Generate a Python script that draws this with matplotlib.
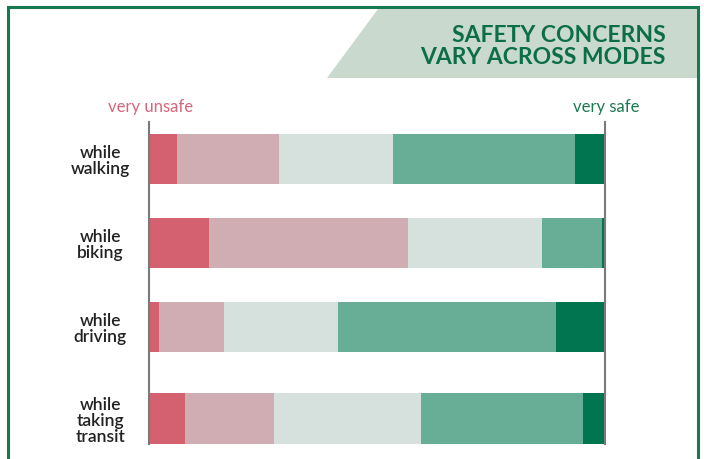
import matplotlib.pyplot as plt
from matplotlib.patches import Polygon, Rectangle
import numpy as np

# --- data (share of respondents, %) ---
modes = ['while\nwalking', 'while\nbiking', 'while\ndriving', 'while\ntaking\ntransit']
very_unsafe = [6.1, 13.1, 2.2, 7.9]
unsafe = [22.4, 43.7, 14.2, 19.6]
neutral = [25.0, 29.4, 25.0, 32.2]
safe = [39.9, 13.1, 47.9, 35.5]
very_safe = [6.6, 0.7, 10.7, 4.8]

colors = ['#d4616f', '#d0adb2', '#d6e0dc', '#68ad96', '#00754f']
green = '#0b6e47'

W, H = 704, 460
fig = plt.figure(figsize=(W / 100, H / 100), dpi=100)
fig.patch.set_facecolor('white')


def fx(x):
    return x / W


def fy(y):
    return 1 - y / H


# --- frame and title banner ---
fig.add_artist(Rectangle((fx(8), fy(470)), fx(690), 462 / H, transform=fig.transFigure,
                         fill=False, edgecolor='#157a50', linewidth=2.2, zorder=0))
banner = Polygon([(fx(378), fy(10)), (fx(697), fy(10)), (fx(697), fy(79)), (fx(327), fy(79))],
                 closed=True, transform=fig.transFigure, facecolor='#c9d9cd', edgecolor='none', zorder=1)
fig.add_artist(banner)
fig.text(fx(666), fy(35), 'SAFETY CONCERNS', ha='right', va='center', fontsize=16.5,
         fontweight='bold', color=green, family='Lato')
fig.text(fx(666), fy(58), 'VARY ACROSS MODES', ha='right', va='center', fontsize=16.5,
         fontweight='bold', color=green, family='Lato')

fig.text(fx(151), fy(107), 'very unsafe', ha='center', va='center', fontsize=12,
         color='#d9657a', family='Lato')
fig.text(fx(606), fy(107), 'very safe', ha='center', va='center', fontsize=12,
         color='#1a7a50', family='Lato')

# --- stacked bars ---
ax = fig.add_axes([fx(149), fy(445), fx(605) - fx(149), (445 - 123) / H])
rows = [0, 1, 2, 3.09]
left = np.zeros(len(modes))
for vals, c in zip([very_unsafe, unsafe, neutral, safe, very_safe], colors):
    ax.barh(rows, vals, left=left, height=0.6, color=c, edgecolor='none')
    left += np.array(vals)

ax.set_xlim(0, 100)
ax.set_ylim(3.393, -0.44)
for s in ['top', 'bottom']:
    ax.spines[s].set_visible(False)
for s in ['left', 'right']:
    ax.spines[s].set_color('#7a7a7a')
    ax.spines[s].set_linewidth(1.5)
ax.set_xticks([])
ax.set_yticks(rows)
ax.set_yticklabels(modes, fontsize=12.5, color='#222222', family='Lato', fontweight='semibold',
                   linespacing=1.0, ha='center')
ax.tick_params(axis='y', length=0, pad=35)
ax.set_facecolor('none')

fig.savefig('out.png', dpi=100)
